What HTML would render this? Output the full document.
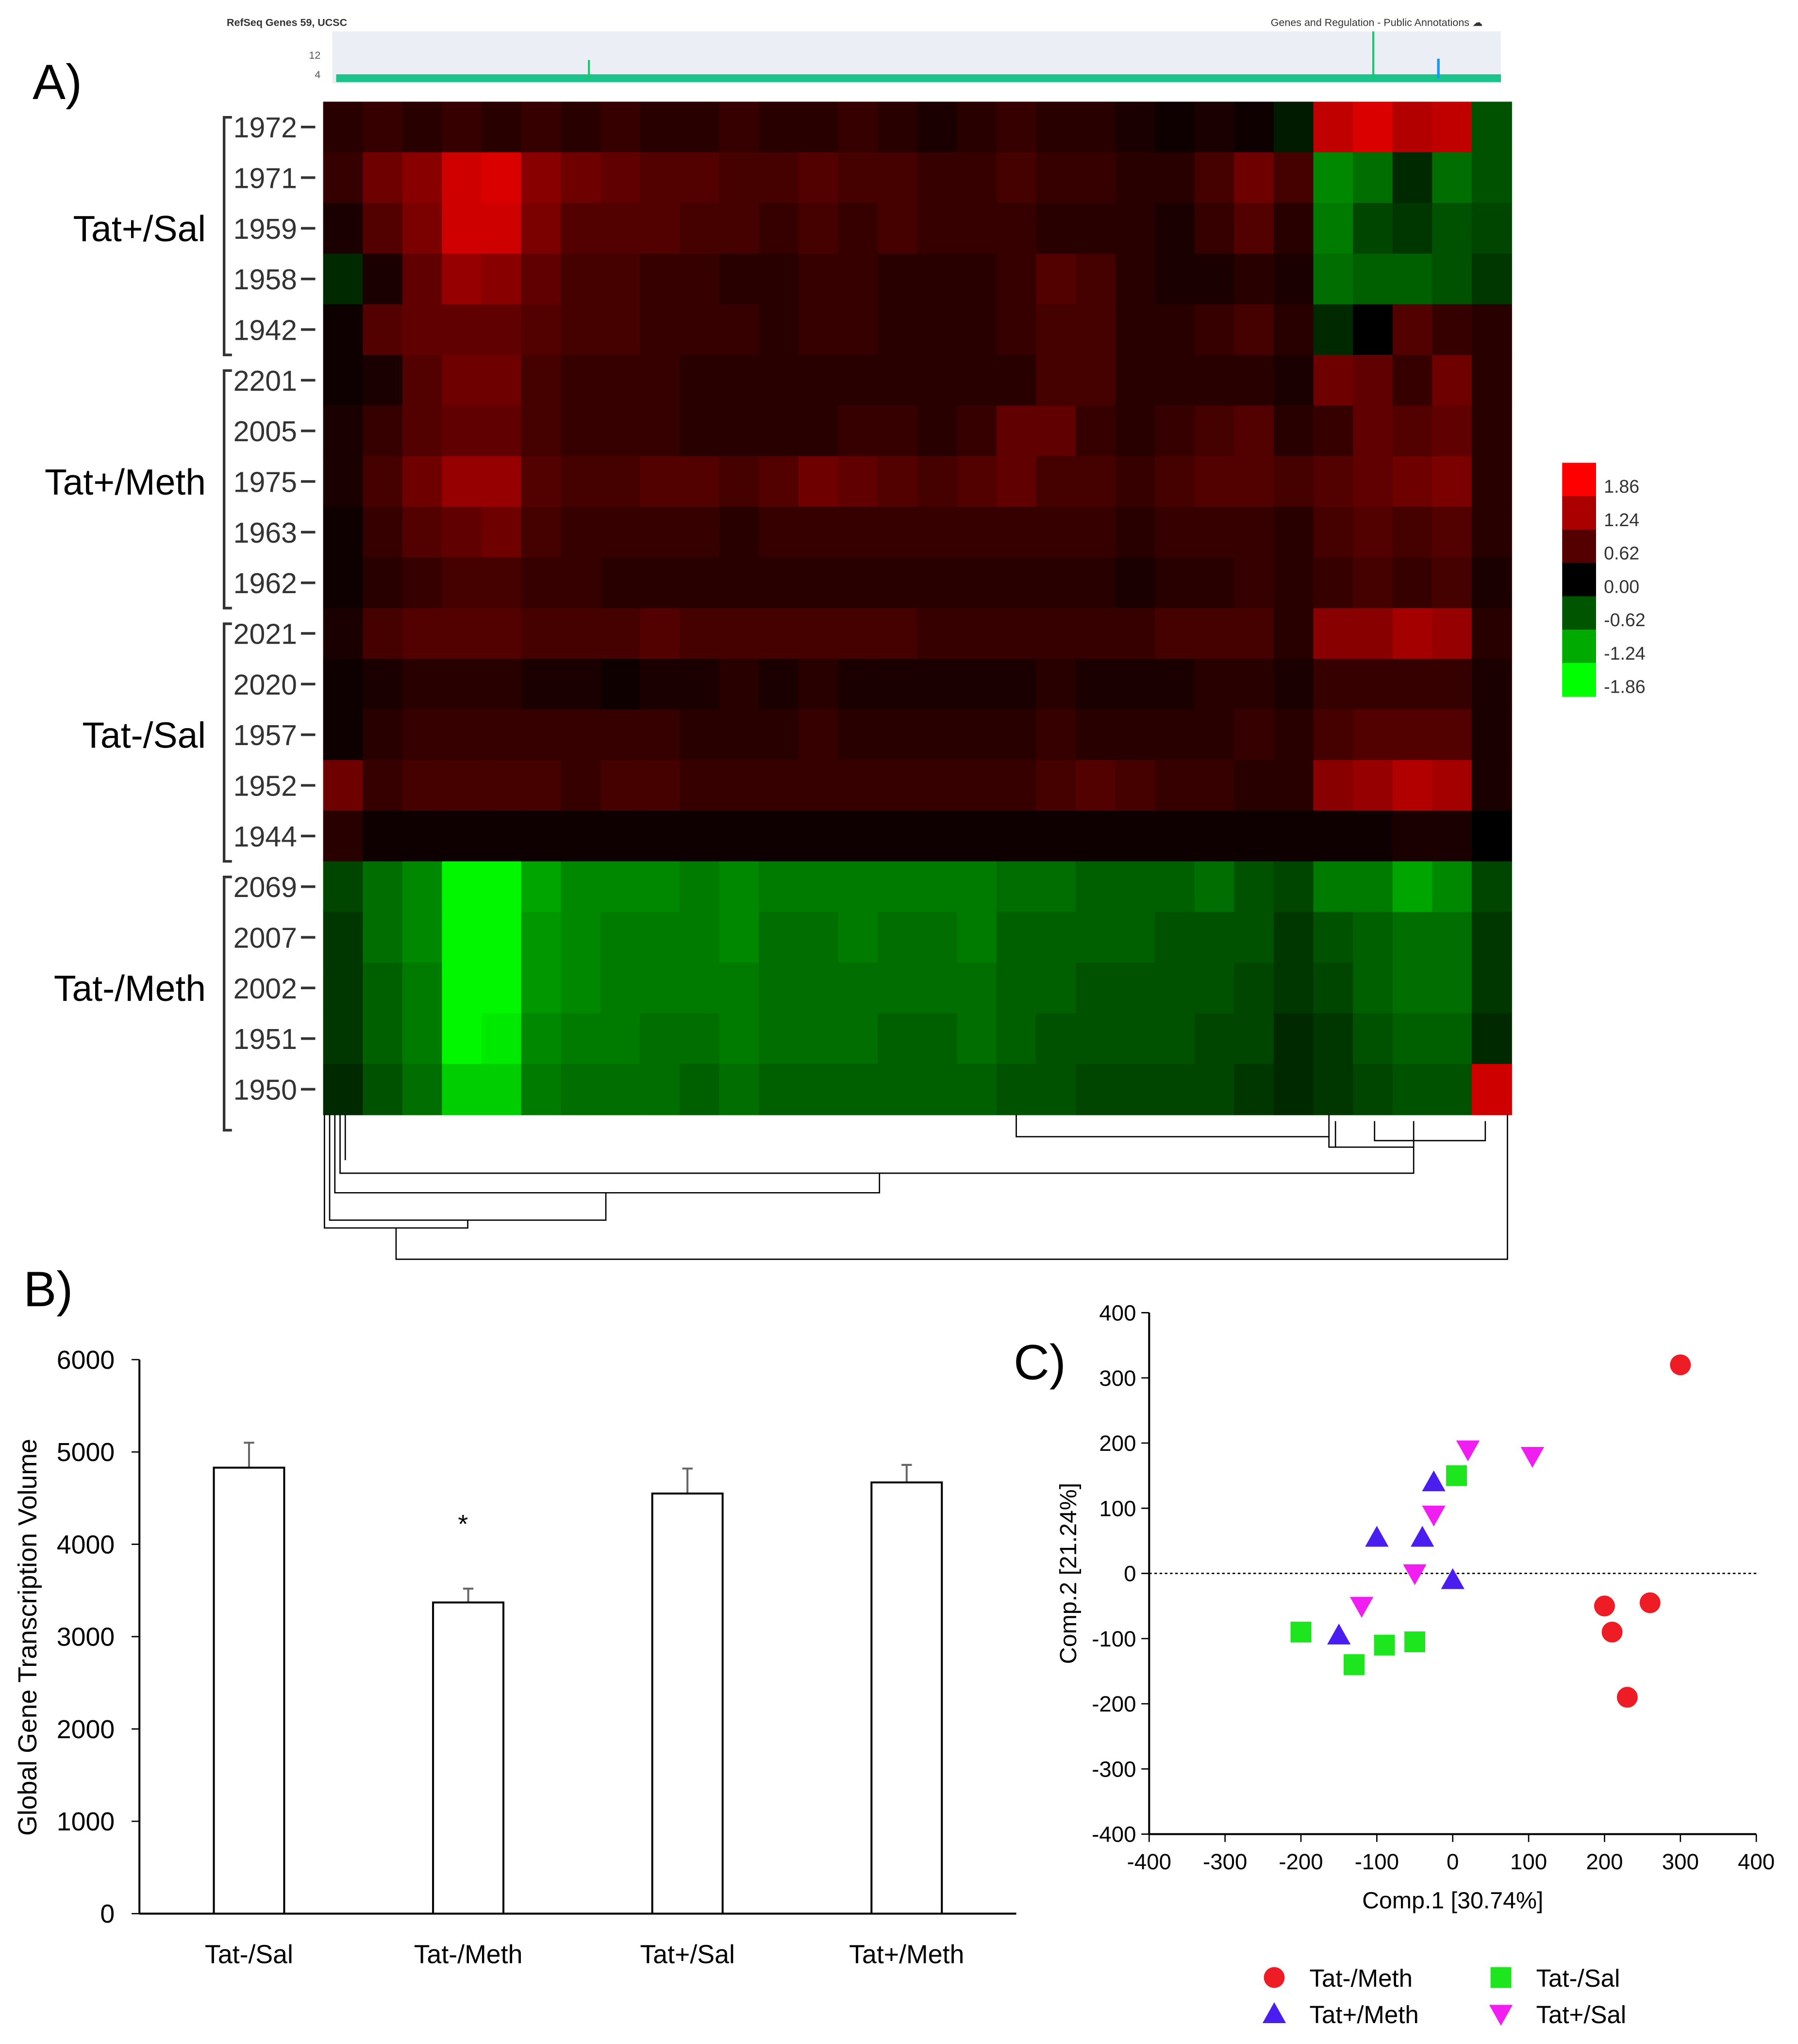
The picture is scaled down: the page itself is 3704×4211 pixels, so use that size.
<!DOCTYPE html>
<html><head><meta charset="utf-8"><style>
html,body{margin:0;padding:0;background:#fff}
svg{display:block}
text{font-family:"Liberation Sans",sans-serif}
</style></head><body>
<svg id="fig" width="3704" height="4211" viewBox="0 0 1380 1568" preserveAspectRatio="none" xmlns="http://www.w3.org/2000/svg">
<rect width="1380" height="1568" fill="#fff"/>
<text x="25" y="76" font-size="38">A)</text>
<text x="18" y="1002" font-size="38">B)</text>
<text x="778" y="1058" font-size="38">C)</text>
<g id="track">
<text x="174" y="20" font-size="8" font-weight="bold" fill="#333">RefSeq Genes 59, UCSC</text>
<text x="1138" y="20" font-size="8" text-anchor="end" fill="#333">Genes and Regulation - Public Annotations ☁</text>
<rect x="255" y="24" width="897" height="40" fill="#eceef6"/>
<rect x="258" y="57" width="894" height="6" fill="#1cc38a"/>
<text x="246" y="45" font-size="8" fill="#555" text-anchor="end">12</text>
<text x="246" y="60" font-size="8" fill="#555" text-anchor="end">4</text>
<line x1="1054" y1="24" x2="1054" y2="60" stroke="#1c6" stroke-width="1.5"/>
<line x1="1104" y1="45" x2="1104" y2="60" stroke="#19f" stroke-width="2"/>
<line x1="452" y1="46" x2="452" y2="60" stroke="#1c6" stroke-width="1.5"/>
</g>
<g id="heat"></g>
<g id="rowlabels"></g>
<g id="dendro" fill="none" stroke="#000" stroke-width="1">
<path d="M249 855V942H359V936"/><path d="M253 855V936H465V915"/><path d="M257 855V915H675V900"/><path d="M261 855V900H1085V880"/><path d="M265 855V890"/><path d="M304 942V966H1157V855"/><path d="M780 855V872H1020V855"/><path d="M1020 872V880H1085V860"/><path d="M1025 860V880"/><path d="M1055 860V875H1140V860"/>
</g>
<g id="cbar"></g>
<g id="barchart"></g>
<g id="scatter"></g>
</svg>
<script>
const NS="http://www.w3.org/2000/svg";
function mk(p,t,a,txt){const e=document.createElementNS(NS,t);for(const k in a)e.setAttribute(k,a[k]);if(txt!==undefined)e.textContent=txt;p.appendChild(e);return e;}
// ---- heatmap data ----
const rowNames=["1972","1971","1959","1958","1942","2201","2005","1975","1963","1962","2021","2020","1957","1952","1944","2069","2007","2002","1951","1950"];
const groupNames=["Tat+/Sal","Tat+/Meth","Tat-/Sal","Tat-/Meth"];
const heatValues=[
[0.3,0.4,0.3,0.4,0.3,0.4,0.3,0.4,0.3,0.3,0.4,0.3,0.3,0.4,0.3,0.2,0.3,0.4,0.3,0.3,0.2,0.1,0.2,0.1,-0.2,1.4,1.6,1.3,1.4,-0.6],
[0.4,0.8,1.0,1.5,1.6,1.0,0.8,0.7,0.6,0.6,0.5,0.5,0.6,0.5,0.5,0.4,0.4,0.5,0.4,0.4,0.3,0.3,0.5,0.8,0.5,-1.0,-0.8,-0.3,-0.8,-0.6],
[0.2,0.6,0.9,1.5,1.5,0.9,0.6,0.6,0.6,0.5,0.5,0.4,0.5,0.4,0.5,0.4,0.4,0.4,0.3,0.3,0.3,0.2,0.4,0.6,0.3,-0.9,-0.5,-0.4,-0.6,-0.5],
[-0.3,0.2,0.7,1.1,1.0,0.7,0.5,0.5,0.4,0.4,0.3,0.3,0.4,0.4,0.3,0.3,0.3,0.4,0.6,0.5,0.3,0.2,0.2,0.3,0.2,-0.8,-0.7,-0.7,-0.6,-0.4],
[0.1,0.6,0.7,0.7,0.7,0.6,0.5,0.5,0.4,0.4,0.4,0.3,0.4,0.4,0.3,0.3,0.3,0.4,0.5,0.5,0.3,0.3,0.4,0.5,0.3,-0.3,0.0,0.6,0.4,0.3],
[0.1,0.2,0.6,0.8,0.8,0.5,0.4,0.4,0.4,0.3,0.3,0.3,0.3,0.3,0.3,0.3,0.3,0.3,0.5,0.5,0.3,0.3,0.3,0.3,0.2,0.8,0.7,0.4,0.8,0.3],
[0.2,0.4,0.6,0.7,0.7,0.5,0.4,0.4,0.4,0.3,0.3,0.3,0.3,0.4,0.4,0.3,0.4,0.7,0.7,0.4,0.3,0.4,0.5,0.6,0.3,0.4,0.7,0.6,0.7,0.3],
[0.2,0.5,0.8,1.1,1.1,0.6,0.5,0.5,0.6,0.6,0.5,0.6,0.8,0.7,0.6,0.5,0.6,0.7,0.5,0.5,0.4,0.5,0.6,0.6,0.5,0.6,0.7,0.8,0.9,0.3],
[0.1,0.4,0.6,0.7,0.8,0.5,0.4,0.4,0.4,0.4,0.3,0.4,0.4,0.4,0.4,0.4,0.4,0.4,0.4,0.4,0.3,0.4,0.4,0.4,0.3,0.5,0.6,0.5,0.6,0.3],
[0.1,0.3,0.4,0.5,0.5,0.4,0.4,0.3,0.3,0.3,0.3,0.3,0.3,0.3,0.3,0.3,0.3,0.3,0.3,0.3,0.2,0.3,0.3,0.4,0.3,0.4,0.5,0.4,0.5,0.2],
[0.2,0.5,0.6,0.6,0.6,0.5,0.5,0.5,0.6,0.5,0.5,0.5,0.5,0.5,0.5,0.4,0.4,0.4,0.4,0.4,0.4,0.5,0.5,0.5,0.3,1.0,1.0,1.2,1.1,0.3],
[0.1,0.2,0.3,0.3,0.3,0.2,0.2,0.1,0.2,0.2,0.3,0.2,0.3,0.2,0.2,0.2,0.2,0.2,0.3,0.2,0.2,0.2,0.3,0.3,0.2,0.4,0.4,0.4,0.4,0.2],
[0.1,0.3,0.4,0.4,0.4,0.4,0.4,0.4,0.4,0.3,0.3,0.3,0.4,0.3,0.3,0.3,0.3,0.3,0.4,0.3,0.3,0.3,0.3,0.4,0.3,0.5,0.6,0.6,0.6,0.2],
[0.8,0.4,0.5,0.5,0.5,0.5,0.4,0.5,0.5,0.4,0.4,0.4,0.4,0.4,0.4,0.4,0.4,0.4,0.5,0.6,0.5,0.4,0.4,0.3,0.3,1.0,1.1,1.3,1.2,0.2],
[0.3,0.1,0.1,0.1,0.1,0.1,0.1,0.1,0.1,0.1,0.1,0.1,0.1,0.1,0.1,0.1,0.1,0.1,0.1,0.1,0.1,0.1,0.1,0.1,0.1,0.1,0.1,0.2,0.2,0.0],
[-0.5,-0.8,-1.0,-1.8,-1.8,-1.2,-1.0,-1.0,-1.0,-0.9,-1.0,-0.9,-0.9,-0.9,-0.9,-0.9,-0.9,-0.8,-0.8,-0.7,-0.7,-0.7,-0.8,-0.6,-0.5,-0.9,-0.9,-1.2,-1.0,-0.5],
[-0.4,-0.8,-1.0,-1.8,-1.8,-1.1,-1.0,-0.9,-0.9,-0.9,-1.0,-0.8,-0.8,-0.9,-0.8,-0.8,-0.9,-0.7,-0.7,-0.7,-0.7,-0.6,-0.6,-0.6,-0.4,-0.6,-0.7,-0.8,-0.8,-0.4],
[-0.4,-0.7,-0.9,-1.8,-1.8,-1.1,-1.0,-0.9,-0.9,-0.9,-0.9,-0.8,-0.8,-0.8,-0.8,-0.8,-0.8,-0.7,-0.7,-0.6,-0.6,-0.6,-0.6,-0.5,-0.4,-0.5,-0.7,-0.8,-0.8,-0.4],
[-0.4,-0.7,-0.9,-1.8,-1.7,-1.0,-0.9,-0.9,-0.8,-0.8,-0.9,-0.8,-0.8,-0.8,-0.7,-0.7,-0.8,-0.7,-0.6,-0.6,-0.6,-0.6,-0.5,-0.5,-0.3,-0.4,-0.6,-0.7,-0.7,-0.3],
[-0.3,-0.6,-0.8,-1.5,-1.5,-0.9,-0.8,-0.8,-0.8,-0.7,-0.8,-0.7,-0.7,-0.7,-0.7,-0.7,-0.7,-0.6,-0.6,-0.5,-0.5,-0.5,-0.5,-0.4,-0.3,-0.4,-0.5,-0.6,-0.6,1.5]];
const cbarTicks=["1.86","1.24","0.62","0.00","-0.62","-1.24","-1.86"];
const cbarValues=[1.86,1.24,0.62,0,-0.62,-1.24,-1.86];
function col(v){const t=Math.min(1,Math.abs(v)/1.86);const c=Math.round(255*t);return v>=0?`rgb(${c},0,0)`:`rgb(0,${c},0)`;}
(function(){
const g=document.getElementById('heat');const x0=248,x1=1160,y0=78,y1=855;
const nr=heatValues.length,nc=heatValues[0].length;const rh=(y1-y0)/nr,cw=(x1-x0)/nc;
heatValues.forEach((row,i)=>row.forEach((v,j)=>{
const r=mk(g,'rect',{x:x0+j*cw,y:y0+i*rh,width:cw+0.5,height:rh+0.5,fill:col(v)});


}));
const L=document.getElementById('rowlabels');
rowNames.forEach((n,i)=>{const yc=y0+(i+0.5)*rh;
const t=mk(L,'text',{x:228,y:yc+8,'font-size':22,'text-anchor':'end',fill:'#333'},n);


mk(L,'line',{x1:231,x2:242,y1:yc,y2:yc,stroke:'#333','stroke-width':2});});
const groupRows=[[0,5],[5,10],[10,15],[15,20]];
const gx=[158,158,158,158];
groupRows.forEach((gr,k)=>{const ya=y0+gr[0]*rh+12,yb=y0+gr[1]*rh+(k==3?12:0);
mk(L,'path',{d:`M178 ${ya}H172V${yb}H178`,fill:'none',stroke:'#333','stroke-width':2});
const t=mk(L,'text',{x:gx[k],y:(y0+(gr[0]+gr[1])/2*rh)+10,'font-size':28,'text-anchor':'end',fill:'#000'},groupNames[k]);

});
const C=document.getElementById('cbar');
cbarValues.forEach((v,i)=>{mk(C,'rect',{x:1199,y:355+i*25.6,width:26,height:26,fill:col(v)});
const t=mk(C,'text',{x:1231,y:378+i*25.6,'font-size':14,fill:'#333'},cbarTicks[i]);

});
})();
// ---- bar chart ----
const barCats=["Tat-/Sal","Tat-/Meth","Tat+/Sal","Tat+/Meth"];
const barVals=[4830,3370,4550,4670];
const barErr=[270,150,270,190];
const barTicks=[0,1000,2000,3000,4000,5000,6000];
(function(){
const g=document.getElementById('barchart');const X0=107,X1=780,Y0=1468,Y6=1043;
const y=v=>Y0-(v/6000)*(Y0-Y6);const bw=(X1-X0)/barCats.length;
mk(g,'line',{x1:X0,y1:Y6,x2:X0,y2:Y0,stroke:'#000','stroke-width':1.5});
mk(g,'line',{x1:X0,y1:Y0,x2:X1,y2:Y0,stroke:'#000','stroke-width':1.5});
barTicks.forEach(t=>{mk(g,'line',{x1:X0-6,x2:X0,y1:y(t),y2:y(t),stroke:'#000'});
const e=mk(g,'text',{x:88,y:y(t)+7,'font-size':20,'text-anchor':'end'},String(t));

});
const yt=mk(g,'text',{x:0,y:0,'font-size':20,'text-anchor':'middle',transform:`translate(28,1256) rotate(-90)`},'Global Gene Transcription Volume');


barCats.forEach((c,i)=>{const cx=X0+bw*(i+0.5)-(i==0?0:(i==1?0:0));
mk(g,'line',{x1:cx,x2:cx,y1:y(barVals[i]),y2:y(barVals[i]+barErr[i]),stroke:'#666','stroke-width':1.5});
mk(g,'line',{x1:cx-4,x2:cx+4,y1:y(barVals[i]+barErr[i]),y2:y(barVals[i]+barErr[i]),stroke:'#666','stroke-width':1.5});
const r=mk(g,'rect',{x:cx-27,y:y(barVals[i]),width:54,height:Y0-y(barVals[i]),fill:'#fff',stroke:'#000','stroke-width':1.5});


const t=mk(g,'text',{x:cx,y:1506,'font-size':20,'text-anchor':'middle'},c);

});
const s=mk(g,'text',{x:X0+bw*1.5-4,y:1176,'font-size':20,'text-anchor':'middle'},'*');


})();
// ---- scatter ----
const groups=["Tat-/Meth","Tat+/Meth","Tat-/Sal","Tat+/Sal"];
const ptsX=[[300,200,210,260,230],[-100,-40,-25,0,-150],[5,-200,-130,-90,-50],[20,105,-25,-50,-120]];
const ptsY=[[320,-50,-90,-45,-190],[55,55,140,-10,-95],[150,-90,-140,-110,-105],[190,180,90,0,-50]];
const axTicks=[-400,-300,-200,-100,0,100,200,300,400];
(function(){
const g=document.getElementById('scatter');
const sx=v=>882+(v+400)/800*466, sy=v=>1407-(v+400)/800*400;
const colors=["#ee1c25","#4b1ef0","#1ee61e","#f01ef0"];
mk(g,'line',{x1:882,y1:1007,x2:882,y2:1407,stroke:'#000','stroke-width':1.5});
mk(g,'line',{x1:882,y1:1407,x2:1348,y2:1407,stroke:'#000','stroke-width':1.5});
mk(g,'line',{x1:882,y1:sy(0),x2:1348,y2:sy(0),stroke:'#000','stroke-dasharray':'2,2'});
axTicks.forEach(t=>{mk(g,'line',{x1:sx(t),x2:sx(t),y1:1407,y2:1413,stroke:'#000'});
const a=mk(g,'text',{x:sx(t),y:1434,'font-size':17,'text-anchor':'middle'},String(t));


mk(g,'line',{x1:876,x2:882,y1:sy(t),y2:sy(t),stroke:'#000'});
const b=mk(g,'text',{x:872,y:sy(t)+6,'font-size':17,'text-anchor':'end'},String(t));

});
const xt=mk(g,'text',{x:1115,y:1464,'font-size':18,'text-anchor':'middle'},'Comp.1 [30.74%]');


const yt=mk(g,'text',{x:0,y:0,'font-size':18,'text-anchor':'middle',transform:'translate(826,1207) rotate(-90)'},'Comp.2 [21.24%]');


function marker(k,x,y){if(k==0)return mk(g,'circle',{cx:x,cy:y,r:8,fill:colors[0]});
if(k==2)return mk(g,'rect',{x:x-8,y:y-8,width:16,height:16,fill:colors[2]});
if(k==1)return mk(g,'path',{d:`M${x} ${y-9}L${x+9} ${y+7}L${x-9} ${y+7}Z`,fill:colors[1]});
return mk(g,'path',{d:`M${x} ${y+9}L${x+9} ${y-7}L${x-9} ${y-7}Z`,fill:colors[3]});}
ptsX.forEach((arr,k)=>arr.forEach((v,i)=>{const m=marker(k,sx(v),sy(ptsY[k][i]));

}));
const lp=[[978,1517],[978,1545],[1152,1517],[1152,1545]];
groups.forEach((n,k)=>{const m=marker(k,lp[k][0],lp[k][1]);


const t=mk(g,'text',{x:lp[k][0]+27,y:lp[k][1]+7,'font-size':19},n);

});
})();
</script>
</body></html>
